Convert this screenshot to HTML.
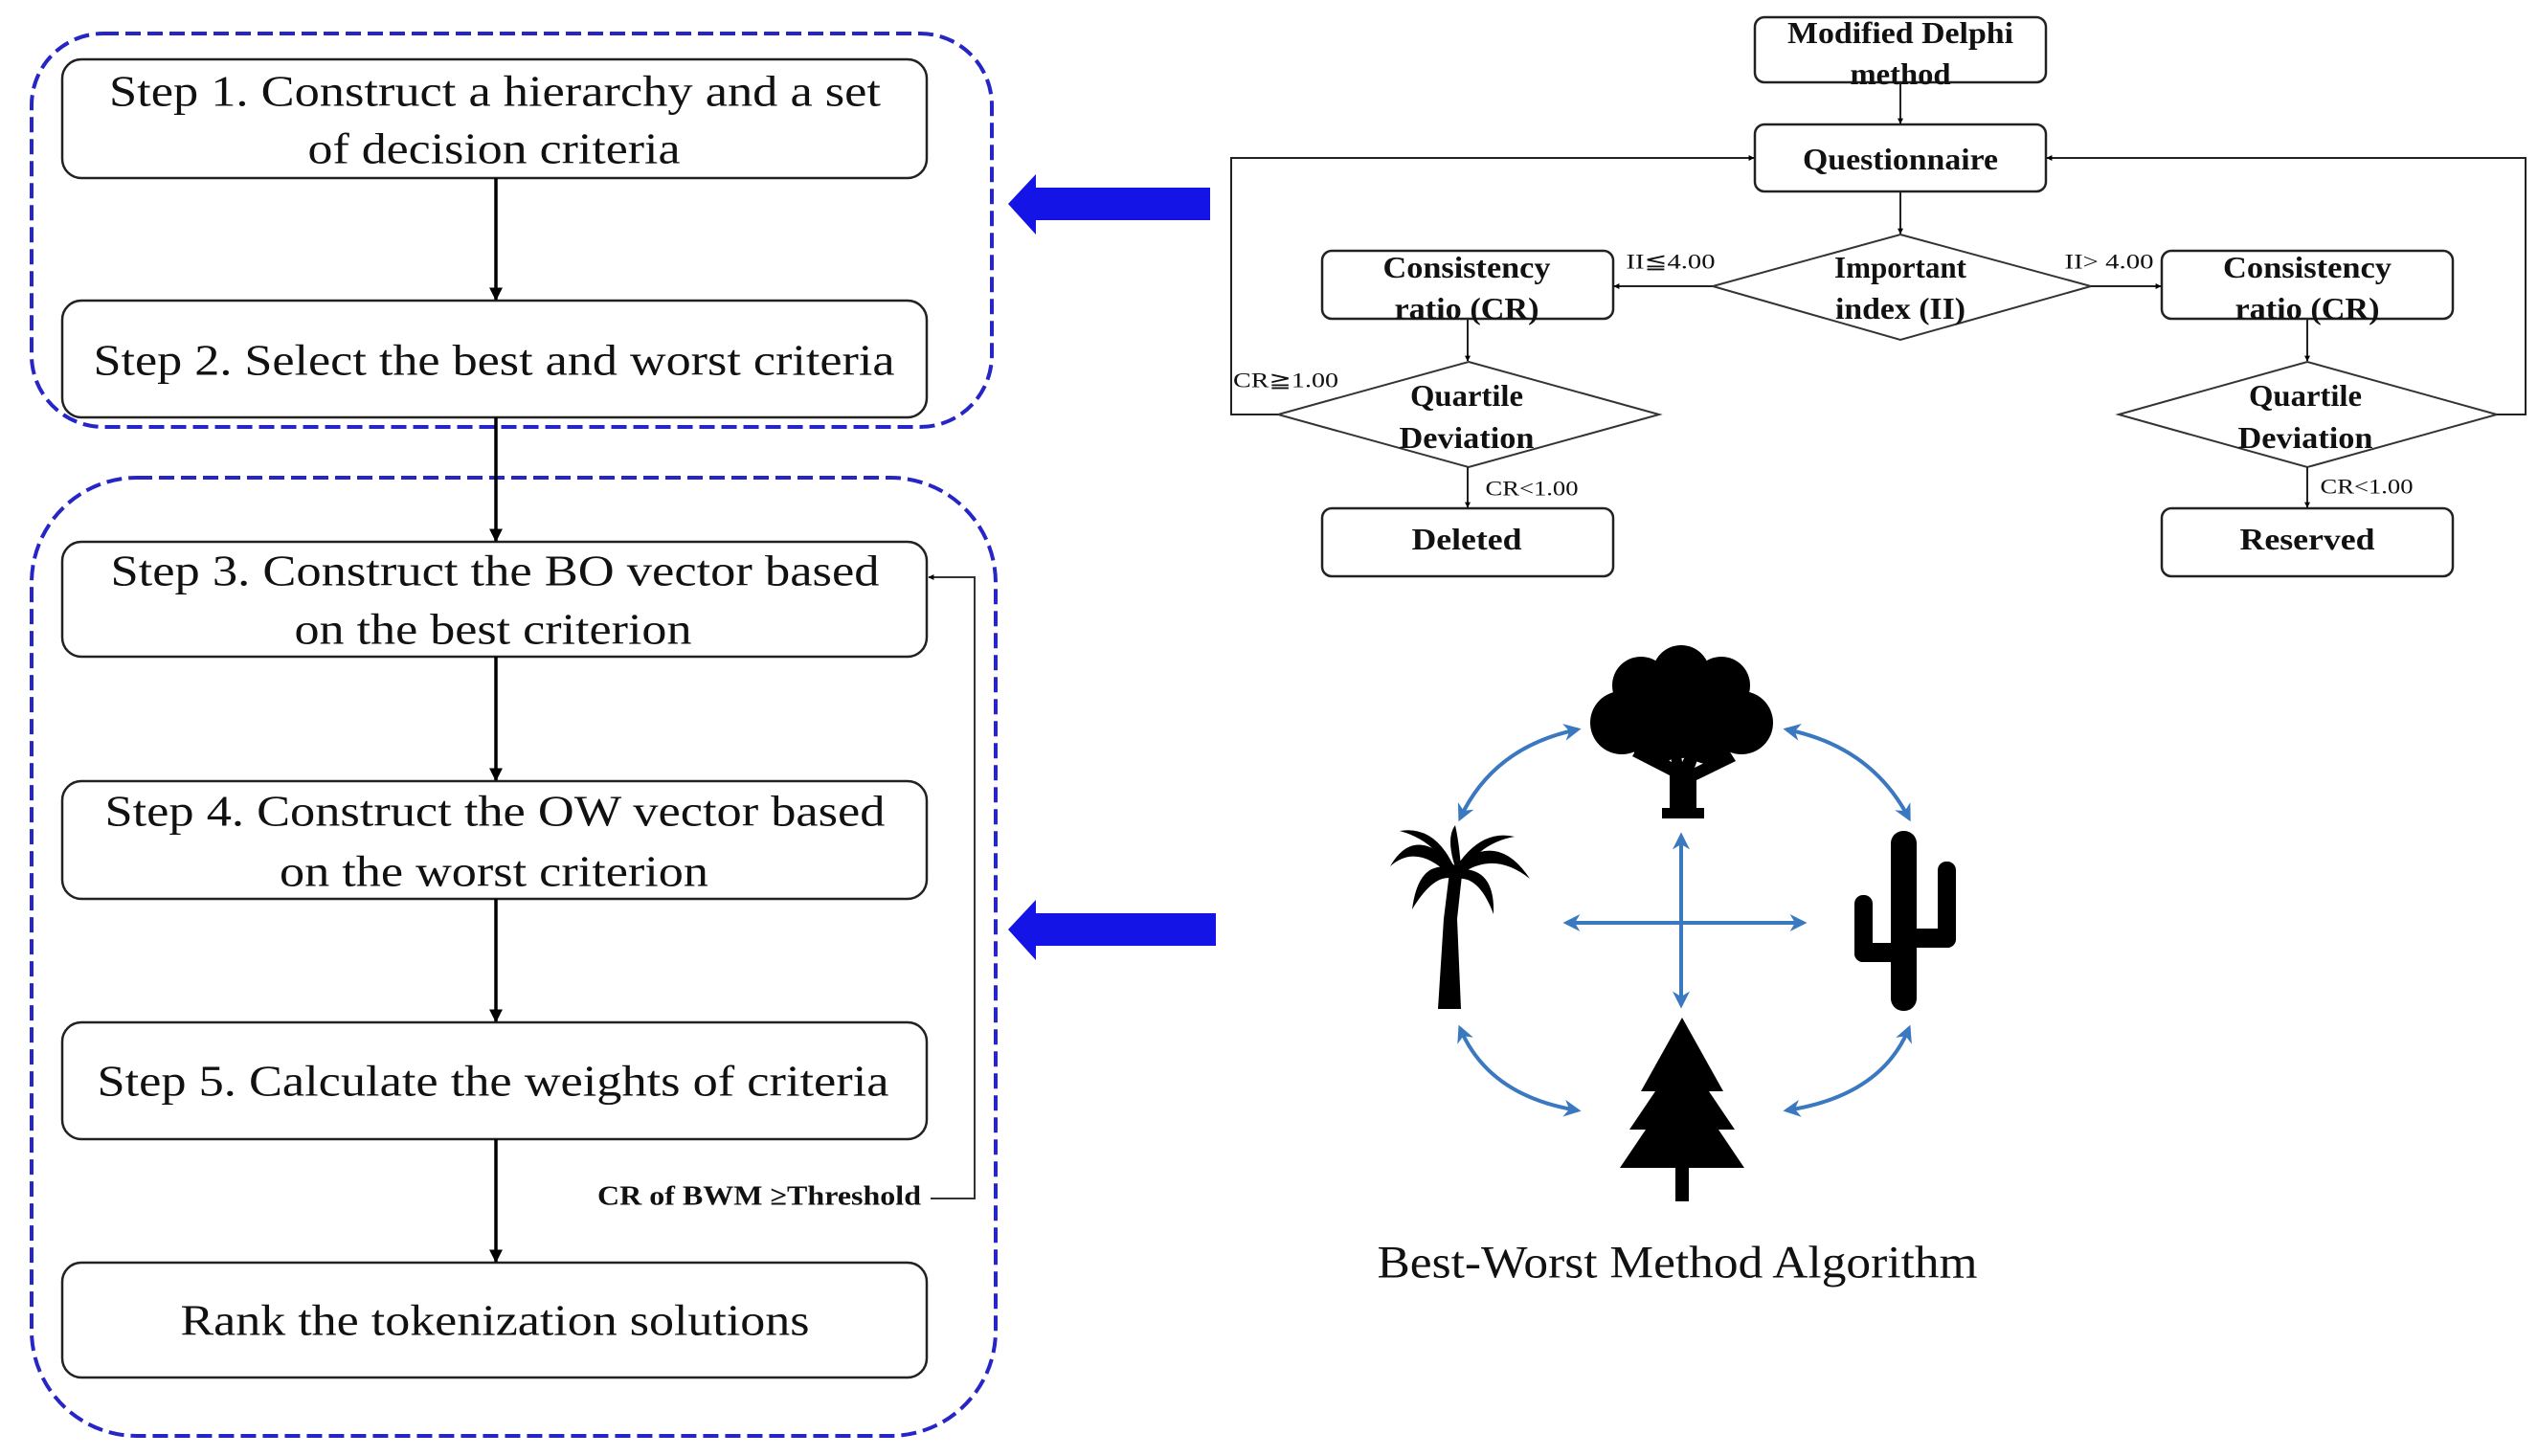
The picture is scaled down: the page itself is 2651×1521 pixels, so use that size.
<!DOCTYPE html>
<html><head><meta charset="utf-8"><style>
html,body{margin:0;padding:0;background:#fff;}
svg{display:block;}
.s{font-family:"Liberation Serif",serif;font-size:46px;fill:#111;}
.b{font-family:"Liberation Serif",serif;font-size:32px;font-weight:bold;fill:#111;}
.l{font-family:"Liberation Serif",serif;font-size:22px;fill:#111;}
</style></head><body>
<svg width="2651" height="1521" viewBox="0 0 2651 1521" xmlns="http://www.w3.org/2000/svg">
<defs>
<marker id="ah" viewBox="0 0 10 10" refX="9" refY="5" markerWidth="6" markerHeight="6" markerUnits="userSpaceOnUse" orient="auto"><path d="M0,0 L10,5 L0,10 z" fill="#000"/></marker>
<marker id="ah2" viewBox="0 0 10 10" refX="9" refY="5" markerWidth="14" markerHeight="14" markerUnits="userSpaceOnUse" orient="auto"><path d="M0,0 L10,5 L0,10 z" fill="#000"/></marker>
<marker id="ba" viewBox="0 0 10 10" refX="8" refY="5" markerWidth="18" markerHeight="18" markerUnits="userSpaceOnUse" orient="auto-start-reverse"><path d="M0,0 L10,5 L0,10 L3,5 z" fill="#3a78c0"/></marker>
</defs>
<g dominant-baseline="central" text-anchor="middle">
<rect x="33" y="35" width="1003" height="411" rx="75" fill="none" stroke="#2626c8" stroke-width="4" stroke-dasharray="16 7"/>
<rect x="33" y="499" width="1007" height="1001" rx="110" fill="none" stroke="#2626c8" stroke-width="4" stroke-dasharray="16 7"/>
<g fill="#fff" stroke="#222" stroke-width="2.5">
<rect x="65" y="62" width="903" height="124" rx="20"/>
<rect x="65" y="314" width="903" height="122" rx="20"/>
<rect x="65" y="566" width="903" height="120" rx="20"/>
<rect x="65" y="816" width="903" height="123" rx="20"/>
<rect x="65" y="1068" width="903" height="122" rx="20"/>
<rect x="65" y="1319" width="903" height="120" rx="20"/>
</g>
<g stroke="#000" stroke-width="3.5" fill="none" marker-end="url(#ah2)">
<line x1="518" y1="186" x2="518" y2="313"/>
<line x1="518" y1="436" x2="518" y2="565"/>
<line x1="518" y1="686" x2="518" y2="815"/>
<line x1="518" y1="939" x2="518" y2="1067"/>
<line x1="518" y1="1190" x2="518" y2="1318"/>
</g>
<polyline points="972,1252 1018,1252 1018,603 970,603" fill="none" stroke="#333" stroke-width="2" marker-end="url(#ah)"/>
<text class="s" x="517" y="95" textLength="806" lengthAdjust="spacingAndGlyphs">Step 1. Construct a hierarchy and a set</text>
<text class="s" x="516" y="155" textLength="389" lengthAdjust="spacingAndGlyphs">of decision criteria</text>
<text class="s" x="516" y="376" textLength="837" lengthAdjust="spacingAndGlyphs">Step 2. Select the best and worst criteria</text>
<text class="s" x="517" y="596" textLength="803" lengthAdjust="spacingAndGlyphs">Step 3. Construct the BO vector based</text>
<text class="s" x="515" y="657" textLength="415" lengthAdjust="spacingAndGlyphs">on the best criterion</text>
<text class="s" x="517" y="847" textLength="815" lengthAdjust="spacingAndGlyphs">Step 4. Construct the OW vector based</text>
<text class="s" x="516" y="910" textLength="448" lengthAdjust="spacingAndGlyphs">on the worst criterion</text>
<text class="s" x="515" y="1129" textLength="827" lengthAdjust="spacingAndGlyphs">Step 5. Calculate the weights of criteria</text>
<text class="s" x="517" y="1379" textLength="657" lengthAdjust="spacingAndGlyphs">Rank the tokenization solutions</text>
<text class="b" x="793" y="1250" style="font-size:28px" textLength="338" lengthAdjust="spacingAndGlyphs">CR of BWM ≥Threshold</text>
<path d="M1264,196 L1082,196 L1082,182 L1053,213 L1082,245 L1082,230 L1264,230 Z" fill="#1414e6"/>
<path d="M1270,954 L1082,954 L1082,940 L1053,971 L1082,1003 L1082,988 L1270,988 Z" fill="#1414e6"/>
<g fill="#fff" stroke="#222" stroke-width="2.5">
<rect x="1833" y="18" width="304" height="68" rx="10"/>
<rect x="1833" y="130" width="304" height="70" rx="10"/>
<rect x="1381" y="262" width="304" height="71" rx="10"/>
<rect x="2258" y="262" width="304" height="71" rx="10"/>
<rect x="1381" y="531" width="304" height="71" rx="10"/>
<rect x="2258" y="531" width="304" height="71" rx="10"/>
</g>
<g fill="#fff" stroke="#333" stroke-width="2">
<polygon points="1985,245 2184,299 1985,355 1789,299"/>
<polygon points="1534,378 1733,433 1534,488 1335,433"/>
<polygon points="2410,378 2608,433 2410,488 2213,433"/>
</g>
<g stroke="#222" stroke-width="2" fill="none" marker-end="url(#ah)">
<line x1="1985" y1="86" x2="1985" y2="129"/>
<line x1="1985" y1="200" x2="1985" y2="244"/>
<line x1="1789" y1="299" x2="1686" y2="299"/>
<line x1="2184" y1="299" x2="2257" y2="299"/>
<line x1="1533" y1="333" x2="1533" y2="377"/>
<line x1="2410" y1="333" x2="2410" y2="377"/>
<line x1="1533" y1="488" x2="1533" y2="530"/>
<line x1="2410" y1="488" x2="2410" y2="530"/>
<polyline points="1335,433 1286,433 1286,165 1832,165"/>
<polyline points="2608,433 2638,433 2638,165 2138,165"/>
</g>
<text class="b" x="1985" y="34" textLength="236" lengthAdjust="spacingAndGlyphs">Modified Delphi</text>
<text class="b" x="1985" y="77" textLength="105" lengthAdjust="spacingAndGlyphs">method</text>
<text class="b" x="1985" y="166" textLength="204" lengthAdjust="spacingAndGlyphs">Questionnaire</text>
<text class="b" x="1985" y="279" textLength="138" lengthAdjust="spacingAndGlyphs">Important</text>
<text class="b" x="1985" y="322" textLength="136" lengthAdjust="spacingAndGlyphs">index (II)</text>
<text class="b" x="1532" y="279" textLength="175" lengthAdjust="spacingAndGlyphs">Consistency</text>
<text class="b" x="1532" y="322" textLength="151" lengthAdjust="spacingAndGlyphs">ratio (CR)</text>
<text class="b" x="2410" y="279" textLength="176" lengthAdjust="spacingAndGlyphs">Consistency</text>
<text class="b" x="2410" y="322" textLength="151" lengthAdjust="spacingAndGlyphs">ratio (CR)</text>
<text class="b" x="1532" y="413" textLength="118" lengthAdjust="spacingAndGlyphs">Quartile</text>
<text class="b" x="1532" y="457" textLength="141" lengthAdjust="spacingAndGlyphs">Deviation</text>
<text class="b" x="2408" y="413" textLength="118" lengthAdjust="spacingAndGlyphs">Quartile</text>
<text class="b" x="2408" y="457" textLength="141" lengthAdjust="spacingAndGlyphs">Deviation</text>
<text class="b" x="1532" y="563" textLength="115" lengthAdjust="spacingAndGlyphs">Deleted</text>
<text class="b" x="2410" y="563" textLength="141" lengthAdjust="spacingAndGlyphs">Reserved</text>
<text class="l" x="1745" y="273" textLength="93" lengthAdjust="spacingAndGlyphs">II≦4.00</text>
<text class="l" x="2203" y="273" textLength="93" lengthAdjust="spacingAndGlyphs">II&gt; 4.00</text>
<text class="l" x="1343" y="397" textLength="110" lengthAdjust="spacingAndGlyphs">CR≧1.00</text>
<text class="l" x="1600" y="510" textLength="97" lengthAdjust="spacingAndGlyphs">CR&lt;1.00</text>
<text class="l" x="2472" y="508" textLength="97" lengthAdjust="spacingAndGlyphs">CR&lt;1.00</text>
<g stroke="#3a78c0" stroke-width="4" fill="none" marker-start="url(#ba)" marker-end="url(#ba)">
<line x1="1636" y1="964" x2="1884" y2="964"/>
<line x1="1756" y1="873" x2="1756" y2="1050"/>
<path d="M1648,762 Q1560,780 1525,855"/>
<path d="M1866,762 Q1955,780 1994,855"/>
<path d="M1525,1074 Q1555,1145 1648,1160"/>
<path d="M1994,1074 Q1965,1145 1866,1160"/>
</g>
<g fill="#000">
<circle cx="1756" cy="704" r="30"/><circle cx="1714" cy="716" r="30"/><circle cx="1798" cy="716" r="30"/>
<circle cx="1694" cy="755" r="33"/><circle cx="1819" cy="755" r="33"/><circle cx="1756" cy="748" r="44"/>
<circle cx="1730" cy="770" r="28"/><circle cx="1784" cy="770" r="28"/>
<path d="M1744,854 L1744,810 L1705,790 L1712,778 L1746,796 L1742,775 L1754,772 L1757,796 L1768,775 L1779,778 L1770,802 L1806,784 L1813,795 L1772,815 L1772,854 Z"/>
<rect x="1736" y="844" width="44" height="11"/>
<path d="M1502,1054 L1508,960 L1515,903 L1528,905 L1522,960 L1526,1054 Z"/>
<path d="M1520,905 Q1478,860 1452,905 Q1480,880 1515,915 Z"/>
<path d="M1520,908 Q1482,895 1475,950 Q1498,912 1518,918 Z"/>
<path d="M1522,903 Q1565,868 1598,918 Q1560,888 1525,914 Z"/>
<path d="M1522,908 Q1562,905 1560,955 Q1545,915 1522,918 Z"/>
<path d="M1518,904 Q1498,862 1462,868 Q1498,878 1512,908 Z"/>
<path d="M1522,904 Q1548,866 1582,874 Q1548,880 1528,910 Z"/>
<path d="M1520,906 Q1510,875 1520,862 Q1524,880 1526,906 Z"/>
<rect x="1975" y="868" width="27" height="188" rx="13"/>
<rect x="1937" y="935" width="19" height="70" rx="9"/>
<rect x="1937" y="985" width="50" height="20" rx="9"/>
<rect x="2024" y="900" width="19" height="90" rx="9"/>
<rect x="1990" y="970" width="53" height="20" rx="9"/>
<polygon points="1757,1063 1800,1140 1785,1140 1812,1180 1795,1180 1822,1220 1692,1220 1719,1180 1702,1180 1729,1140 1714,1140"/>
<rect x="1750" y="1200" width="14" height="55"/>
</g>
<text x="1752" y="1319" style="font-family:'Liberation Serif',serif;font-size:48px;fill:#111" textLength="627" lengthAdjust="spacingAndGlyphs">Best-Worst Method Algorithm</text>
</g>
</svg>
</body></html>
